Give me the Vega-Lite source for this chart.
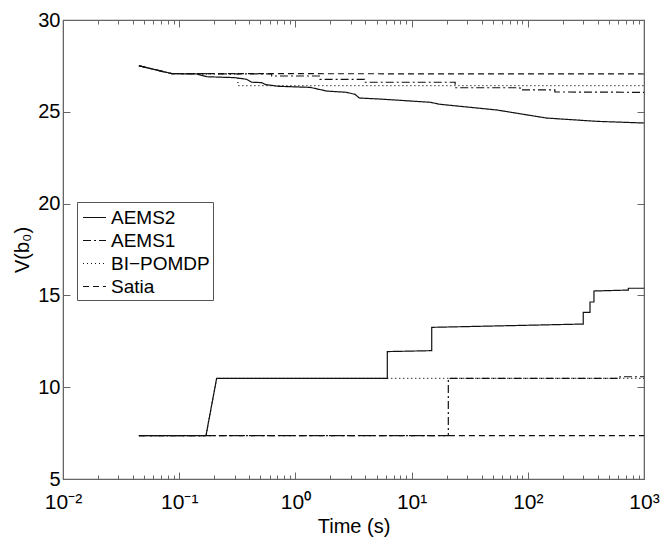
{
  "$schema": "https://vega.github.io/schema/vega-lite/v6.json",
  "autosize": "none",
  "width": 581,
  "height": 459,
  "padding": {"left": 63, "top": 20, "right": 20, "bottom": 60},
  "background": "white",
  "config": {
    "view": {"stroke": "#666", "strokeWidth": 1.2},
    "font": "Liberation Sans",
    "axis": {"grid": false, "domainColor": "#666", "tickColor": "#666", "labelColor": "#000", "titleColor": "#000", "labelFont": "Liberation Sans", "titleFont": "Liberation Sans", "titleFontWeight": "normal"}
  },
  "datasets": {
    "curves": [
      {"algo": "AEMS2", "bound": "upper", "i": 1, "t": 0.045, "v": 27.51},
      {"algo": "AEMS2", "bound": "upper", "i": 2, "t": 0.0861, "v": 27.08},
      {"algo": "AEMS2", "bound": "upper", "i": 3, "t": 0.1415, "v": 27.06},
      {"algo": "AEMS2", "bound": "upper", "i": 4, "t": 0.1726, "v": 26.91},
      {"algo": "AEMS2", "bound": "upper", "i": 5, "t": 0.302, "v": 26.86},
      {"algo": "AEMS2", "bound": "upper", "i": 6, "t": 0.381, "v": 26.77},
      {"algo": "AEMS2", "bound": "upper", "i": 7, "t": 0.421, "v": 26.61},
      {"algo": "AEMS2", "bound": "upper", "i": 8, "t": 0.513, "v": 26.59},
      {"algo": "AEMS2", "bound": "upper", "i": 9, "t": 0.555, "v": 26.48},
      {"algo": "AEMS2", "bound": "upper", "i": 10, "t": 0.713, "v": 26.39},
      {"algo": "AEMS2", "bound": "upper", "i": 11, "t": 1.34, "v": 26.33},
      {"algo": "AEMS2", "bound": "upper", "i": 12, "t": 1.86, "v": 26.13},
      {"algo": "AEMS2", "bound": "upper", "i": 13, "t": 2.76, "v": 26.06},
      {"algo": "AEMS2", "bound": "upper", "i": 14, "t": 3.26, "v": 25.95},
      {"algo": "AEMS2", "bound": "upper", "i": 15, "t": 3.55, "v": 25.75},
      {"algo": "AEMS2", "bound": "upper", "i": 16, "t": 5.17, "v": 25.7},
      {"algo": "AEMS2", "bound": "upper", "i": 17, "t": 14.4, "v": 25.52},
      {"algo": "AEMS2", "bound": "upper", "i": 18, "t": 17.5, "v": 25.41},
      {"algo": "AEMS2", "bound": "upper", "i": 19, "t": 54, "v": 25.1},
      {"algo": "AEMS2", "bound": "upper", "i": 20, "t": 145, "v": 24.66},
      {"algo": "AEMS2", "bound": "upper", "i": 21, "t": 392, "v": 24.48},
      {"algo": "AEMS2", "bound": "upper", "i": 22, "t": 1000, "v": 24.39},
      {"algo": "AEMS2", "bound": "lower", "i": 1, "t": 0.045, "v": 7.36},
      {"algo": "AEMS2", "bound": "lower", "i": 2, "t": 0.17, "v": 7.36},
      {"algo": "AEMS2", "bound": "lower", "i": 3, "t": 0.21, "v": 10.48},
      {"algo": "AEMS2", "bound": "lower", "i": 4, "t": 6.18, "v": 10.48},
      {"algo": "AEMS2", "bound": "lower", "i": 5, "t": 6.18, "v": 11.94},
      {"algo": "AEMS2", "bound": "lower", "i": 6, "t": 14.9, "v": 11.99},
      {"algo": "AEMS2", "bound": "lower", "i": 7, "t": 14.9, "v": 13.26},
      {"algo": "AEMS2", "bound": "lower", "i": 8, "t": 300, "v": 13.44},
      {"algo": "AEMS2", "bound": "lower", "i": 9, "t": 300, "v": 14.08},
      {"algo": "AEMS2", "bound": "lower", "i": 10, "t": 343, "v": 14.08},
      {"algo": "AEMS2", "bound": "lower", "i": 11, "t": 343, "v": 14.64},
      {"algo": "AEMS2", "bound": "lower", "i": 12, "t": 371, "v": 14.64},
      {"algo": "AEMS2", "bound": "lower", "i": 13, "t": 371, "v": 15.24},
      {"algo": "AEMS2", "bound": "lower", "i": 14, "t": 733, "v": 15.29},
      {"algo": "AEMS2", "bound": "lower", "i": 15, "t": 733, "v": 15.39},
      {"algo": "AEMS2", "bound": "lower", "i": 16, "t": 1000, "v": 15.39},
      {"algo": "AEMS1", "bound": "upper", "i": 1, "t": 0.045, "v": 27.51},
      {"algo": "AEMS1", "bound": "upper", "i": 2, "t": 0.0861, "v": 27.08},
      {"algo": "AEMS1", "bound": "upper", "i": 3, "t": 0.625, "v": 27.06},
      {"algo": "AEMS1", "bound": "upper", "i": 4, "t": 0.625, "v": 26.95},
      {"algo": "AEMS1", "bound": "upper", "i": 5, "t": 1.63, "v": 26.95},
      {"algo": "AEMS1", "bound": "upper", "i": 6, "t": 1.63, "v": 26.77},
      {"algo": "AEMS1", "bound": "upper", "i": 7, "t": 3.94, "v": 26.77},
      {"algo": "AEMS1", "bound": "upper", "i": 8, "t": 3.94, "v": 26.61},
      {"algo": "AEMS1", "bound": "upper", "i": 9, "t": 23.7, "v": 26.61},
      {"algo": "AEMS1", "bound": "upper", "i": 10, "t": 23.7, "v": 26.31},
      {"algo": "AEMS1", "bound": "upper", "i": 11, "t": 85.7, "v": 26.31},
      {"algo": "AEMS1", "bound": "upper", "i": 12, "t": 85.7, "v": 26.19},
      {"algo": "AEMS1", "bound": "upper", "i": 13, "t": 171, "v": 26.19},
      {"algo": "AEMS1", "bound": "upper", "i": 14, "t": 171, "v": 26.08},
      {"algo": "AEMS1", "bound": "upper", "i": 15, "t": 1000, "v": 26.06},
      {"algo": "AEMS1", "bound": "lower", "i": 1, "t": 0.045, "v": 7.36},
      {"algo": "AEMS1", "bound": "lower", "i": 2, "t": 20.7, "v": 7.36},
      {"algo": "AEMS1", "bound": "lower", "i": 3, "t": 20.7, "v": 10.48},
      {"algo": "AEMS1", "bound": "lower", "i": 4, "t": 621, "v": 10.48},
      {"algo": "AEMS1", "bound": "lower", "i": 5, "t": 621, "v": 10.57},
      {"algo": "AEMS1", "bound": "lower", "i": 6, "t": 1000, "v": 10.57},
      {"algo": "BI−POMDP", "bound": "upper", "i": 1, "t": 0.045, "v": 27.51},
      {"algo": "BI−POMDP", "bound": "upper", "i": 2, "t": 0.0861, "v": 27.08},
      {"algo": "BI−POMDP", "bound": "upper", "i": 3, "t": 0.32, "v": 27.06},
      {"algo": "BI−POMDP", "bound": "upper", "i": 4, "t": 0.32, "v": 26.43},
      {"algo": "BI−POMDP", "bound": "upper", "i": 5, "t": 1000, "v": 26.43},
      {"algo": "BI−POMDP", "bound": "lower", "i": 1, "t": 0.045, "v": 7.36},
      {"algo": "BI−POMDP", "bound": "lower", "i": 2, "t": 0.17, "v": 7.36},
      {"algo": "BI−POMDP", "bound": "lower", "i": 3, "t": 0.21, "v": 10.48},
      {"algo": "BI−POMDP", "bound": "lower", "i": 4, "t": 1000, "v": 10.48},
      {"algo": "Satia", "bound": "upper", "i": 1, "t": 0.045, "v": 27.51},
      {"algo": "Satia", "bound": "upper", "i": 2, "t": 0.0861, "v": 27.08},
      {"algo": "Satia", "bound": "upper", "i": 3, "t": 1000, "v": 27.06},
      {"algo": "Satia", "bound": "lower", "i": 1, "t": 0.045, "v": 7.36},
      {"algo": "Satia", "bound": "lower", "i": 2, "t": 1000, "v": 7.36}
    ]
  },
  "data": {"name": "curves"},
  "resolve": {"axis": {"x": "independent", "y": "independent"}},
  "layer": [
    {
      "mark": {"type": "line", "color": "#111", "strokeWidth": 1.2, "clip": true},
      "encoding": {
        "x": {
          "field": "t", "type": "quantitative",
          "scale": {"type": "log", "domain": [0.01, 1000], "nice": false},
          "axis": {
            "orient": "bottom",
            "title": "Time (s)", "titleFontSize": 20, "titlePadding": 1,
            "values": [0.01,0.02,0.03,0.04,0.05,0.06,0.07,0.08,0.09,0.1,0.2,0.3,0.4,0.5,0.6,0.7,0.8,0.9,1,2,3,4,5,6,7,8,9,10,20,30,40,50,60,70,80,90,100,200,300,400,500,600,700,800,900,1000],
            "labelExpr": "datum.value == 0.01 ? '10⁻²' : datum.value == 0.1 ? '10⁻¹' : datum.value == 1 ? '10⁰' : datum.value == 10 ? '10¹' : datum.value == 100 ? '10²' : datum.value == 1000 ? '10³' : ''",
            "labelFontSize": 21, "labelPadding": 19, "labelFlush": false, "labelOverlap": false,
            "tickSize": {"condition": {"test": "indexof([0.01,0.1,1,10,100,1000], datum.value) >= 0", "value": -7}, "value": -4},
            "domain": true
          }
        },
        "y": {
          "field": "v", "type": "quantitative",
          "scale": {"domain": [5, 30], "nice": false},
          "axis": {
            "orient": "left",
            "title": "V(b₀)", "titleFontSize": 20, "titlePadding": 5,
            "values": [5, 10, 15, 20, 25, 30],
            "labelFontSize": 20, "labelPadding": 10, "labelFlush": false,
            "tickSize": -7
          }
        },
        "strokeDash": {
          "field": "algo", "type": "nominal",
          "scale": {"domain": ["AEMS2", "AEMS1", "BI−POMDP", "Satia"], "range": [[1, 0], [8, 3, 2, 3], [1, 3], [6, 4]]},
          "legend": {
            "orient": "none", "legendX": 14, "legendY": 182, "title": null,
            "strokeColor": "#555", "fillColor": "white", "padding": 3,
            "symbolType": "stroke", "symbolSize": 529, "symbolStrokeWidth": 1.2, "symbolStrokeColor": "#111", "symbolOffset": 2,
            "labelFontSize": 19, "labelFont": "Liberation Sans", "labelColor": "#000", "rowPadding": 0, "labelOffset": 4
          }
        },
        "detail": {"field": "bound", "type": "nominal"},
        "order": {"field": "i", "type": "quantitative"}
      }
    },
    {
      "mark": {"type": "line", "opacity": 0},
      "encoding": {
        "x": {
          "field": "t", "type": "quantitative",
          "scale": {"type": "log", "domain": [0.01, 1000], "nice": false},
          "axis": {
            "orient": "top", "title": null, "labels": false,
            "values": [0.01,0.02,0.03,0.04,0.05,0.06,0.07,0.08,0.09,0.1,0.2,0.3,0.4,0.5,0.6,0.7,0.8,0.9,1,2,3,4,5,6,7,8,9,10,20,30,40,50,60,70,80,90,100,200,300,400,500,600,700,800,900,1000],
            "tickSize": {"condition": {"test": "indexof([0.01,0.1,1,10,100,1000], datum.value) >= 0", "value": -7}, "value": -4}
          }
        },
        "y": {
          "field": "v", "type": "quantitative",
          "scale": {"domain": [5, 30], "nice": false},
          "axis": {"orient": "right", "title": null, "labels": false, "values": [5, 10, 15, 20, 25, 30], "tickSize": -7}
        },
        "detail": {"field": "bound", "type": "nominal"},
        "order": {"field": "i", "type": "quantitative"}
      }
    }
  ]
}
